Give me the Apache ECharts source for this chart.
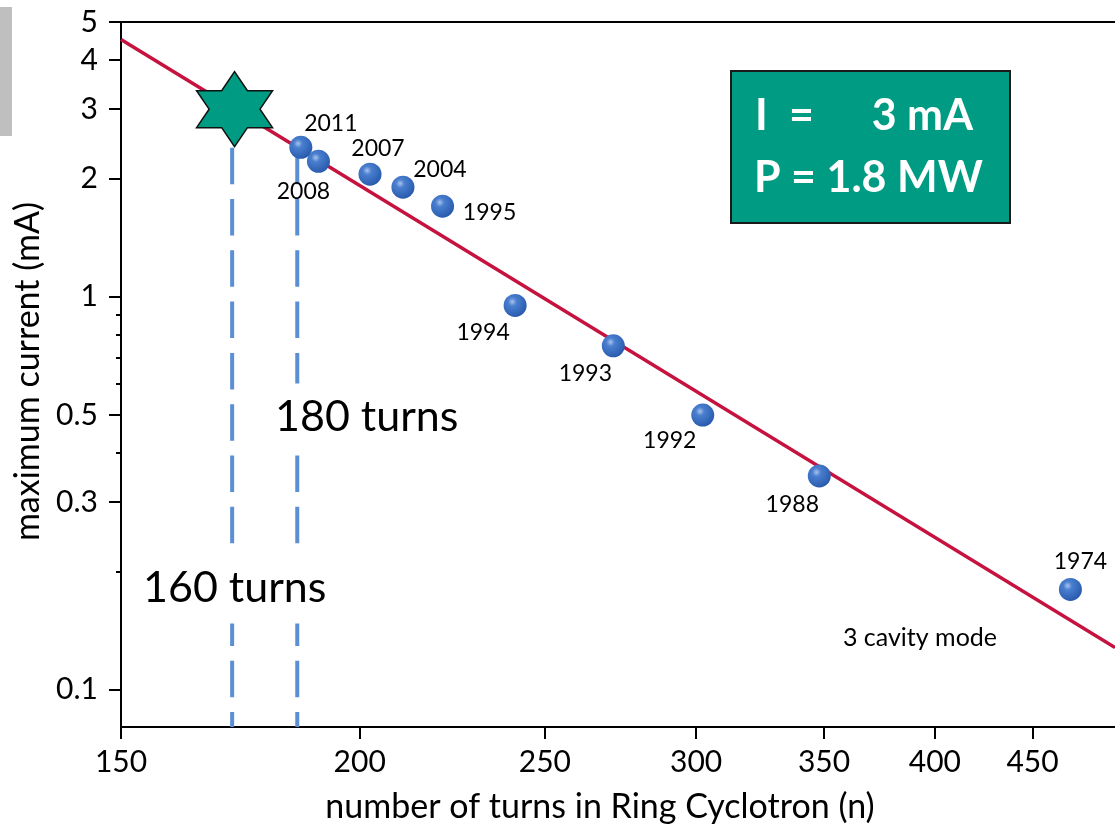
<!DOCTYPE html>
<html>
<head>
<meta charset="utf-8">
<title>maximum current vs. number of turns</title>
<script src="https://cdn.jsdelivr.net/npm/echarts@6.0.0/dist/echarts.min.js"></script>
<style>
html,body{margin:0;padding:0;background:#fff;}
#main{width:1115px;height:828px;}
</style>
</head>
<body>
<div id="main"></div>
<script type="text/javascript">
// operating points: year, turns n, max current (mA)
var years = ['2011', '2008', '2007', '2004', '1995', '1994', '1993', '1992', '1988', '1974'];
var turns = [186.3, 190.3, 202.5, 210.7, 221.0, 241.2, 271.5, 302.4, 348.0, 471.0];
var currents = [2.40, 2.21, 2.05, 1.90, 1.70, 0.95, 0.75, 0.50, 0.35, 0.18];

// I ~ n^-3 scaling line
var fitTurns = [150, 497];
var fitCurrents = [4.51, 0.128];

// goal point (star) and the two vertical marker lines
var goalTurns = [172];
var goalCurrents = [3];
var markTurns = [171.5, 185.5];
var markTops = [3, 2.40];

// axis ticks
var xTicks = [150, 200, 250, 300, 350, 400, 450];
var yTicks = [0.1, 0.3, 0.5, 1, 2, 3, 4, 5];
var yMinorTicks = [0.2, 0.4, 0.6, 0.7, 0.8, 0.9];

// where each year label sits relative to its ball (px)
var labelOffsets = [[30, -24], [-15, 30], [8, -26], [37, -18], [47, 6], [-32, 27], [-28, 28], [-33, 26], [-27, 29], [10, -28]];

var xMin = 150, xMax = 497, yMin = 0.0804, yMax = 5.0001;
var font = 'Lato';
var black = '#000';

window.onload = function() {
	var myChart = echarts.init(document.getElementById('main'));

	var fmt = function(v) { return String(+(+v).toFixed(3)); };

	var ballColor = new echarts.graphic.RadialGradient(0.38, 0.34, 0.66, [
		{offset: 0, color: '#a9c3ec'},
		{offset: 0.28, color: '#4a7fd0'},
		{offset: 1, color: '#2a5cae'}
	]);

	var series = [];
	for (var i = 0; i < markTurns.length; i++) {
		series.push({
			type: 'line',
			data: [[markTurns[i], yMin], [markTurns[i], markTops[i]]],
			symbol: 'none',
			silent: true,
			z: 1,
			lineStyle: {color: '#5b8fd4', width: 4, type: [36.5, 14.8], dashOffset: 21.5}
		});
	}
	series.push({
		type: 'line',
		data: fitTurns.map(function(n, k) { return [n, fitCurrents[k]]; }),
		symbol: 'none',
		silent: true,
		z: 2,
		lineStyle: {color: '#c5123e', width: 3.5}
	});
	series.push({
		type: 'scatter',
		z: 3,
		symbolSize: 23,
		itemStyle: {color: ballColor, opacity: 1},
		label: {
			show: true,
			position: 'inside',
			color: black,
			fontSize: 23,
			fontFamily: font,
			formatter: function(p) { return years[p.dataIndex]; }
		},
		data: turns.map(function(n, k) {
			return {value: [n, currents[k]], label: {offset: labelOffsets[k]}};
		})
	});
	series.push({
		type: 'scatter',
		z: 4,
		symbol: 'path://M38,0L50.89,19L76,19L63.45,37.5L76,56L50.89,56L38,75L25.11,56L0,56L12.55,37.5L0,19L25.11,19Z',
		symbolSize: [76, 75],
		itemStyle: {color: '#009b83', borderColor: '#111', borderWidth: 1.5, opacity: 1},
		data: goalTurns.map(function(n, k) { return [n, goalCurrents[k]]; })
	});

	var axisLineStyle = {color: black, width: 2};
	var labelStyle = {fontSize: 30, fontFamily: font, color: black};
	var nameStyle = {fontSize: 34, fontFamily: font, color: black};

	var option = {
		animation: false,
		backgroundColor: '#fff',
		grid: {left: 121, right: 0, top: 22, bottom: 101, outerBoundsMode: 'none'},
		xAxis: [{
			type: 'log',
			min: xMin,
			max: xMax,
			position: 'bottom',
			axisLine: {show: true, onZero: false, lineStyle: axisLineStyle},
			axisTick: {show: true, customValues: xTicks, length: 12, lineStyle: axisLineStyle},
			axisLabel: Object.assign({customValues: xTicks, margin: 20, formatter: fmt}, labelStyle),
			minorTick: {show: false},
			splitLine: {show: false},
			name: 'number of turns in Ring Cyclotron (n)',
			nameLocation: 'middle',
			nameGap: 63,
			nameTextStyle: Object.assign({padding: [0, 36, 0, 0]}, nameStyle)
		}, {
			type: 'log',
			min: xMin,
			max: xMax,
			position: 'top',
			axisLine: {show: true, onZero: false, lineStyle: axisLineStyle},
			axisTick: {show: false},
			axisLabel: {show: false},
			splitLine: {show: false}
		}],
		yAxis: [{
			type: 'log',
			min: yMin,
			max: yMax,
			position: 'left',
			axisLine: {show: true, onZero: false, lineStyle: axisLineStyle},
			axisTick: {show: true, customValues: yTicks, length: 12, lineStyle: axisLineStyle},
			axisLabel: Object.assign({customValues: yTicks, margin: 23, formatter: fmt}, labelStyle),
			minorTick: {show: false},
			splitLine: {show: false},
			name: 'maximum current (mA)',
			nameLocation: 'middle',
			nameGap: 73,
			nameTextStyle: Object.assign({padding: [0, 0, 0, 6]}, nameStyle)
		}, {
			type: 'log',
			min: yMin,
			max: yMax,
			position: 'left',
			axisLine: {show: false},
			axisTick: {show: true, customValues: yMinorTicks, length: 5, lineStyle: axisLineStyle},
			axisLabel: {show: false},
			splitLine: {show: false}
		}],
		graphic: [
			{type: 'rect', z: 100, shape: {x: 0, y: 7, width: 12, height: 129}, style: {fill: '#bfbfbf'}},
			{type: 'rect', z: 100, shape: {x: 731, y: 71, width: 279, height: 152}, style: {fill: '#009b83', stroke: '#1a1a1a', lineWidth: 2}},
			{type: 'text', z: 101, x: 755, y: 116, style: {text: 'I', fill: '#fff', font: 'bold 43px Lato', verticalAlign: 'middle'}},
			{type: 'text', z: 101, x: 789, y: 116, style: {text: '=', fill: '#fff', font: 'bold 43px Lato', verticalAlign: 'middle'}},
			{type: 'text', z: 101, x: 973, y: 116, style: {text: '3 mA', fill: '#fff', font: 'bold 43px Lato', align: 'right', verticalAlign: 'middle'}},
			{type: 'text', z: 101, x: 754, y: 178, style: {text: 'P = 1.8 MW', fill: '#fff', font: 'bold 43px Lato', verticalAlign: 'middle'}},
			{type: 'text', z: 100, x: 271, y: 417, style: {text: '180 turns', fill: black, font: '43px Lato', verticalAlign: 'middle', backgroundColor: '#fff', padding: [12, 4]}},
			{type: 'text', z: 100, x: 139, y: 588, style: {text: '160 turns', fill: black, font: '43px Lato', verticalAlign: 'middle', backgroundColor: '#fff', padding: [14, 4]}},
			{type: 'text', z: 100, x: 920, y: 638, style: {text: '3 cavity mode', fill: black, font: '25px Lato', align: 'center', verticalAlign: 'middle'}}
		],
		series: series
	};
	myChart.setOption(option);
};
</script>
</body>
</html>
